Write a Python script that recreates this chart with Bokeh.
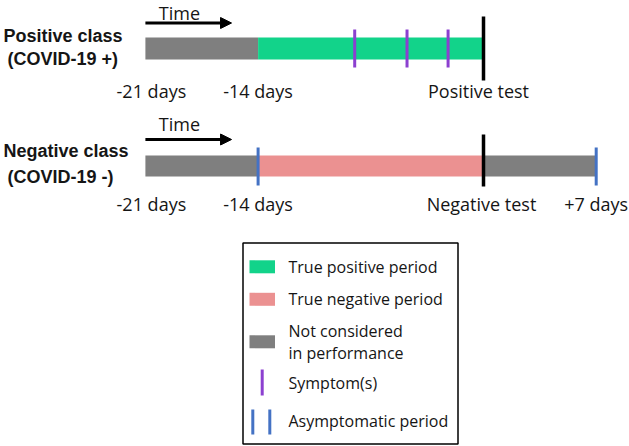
from bokeh.plotting import figure
from bokeh.models import Range1d, Arrow, NormalHead
from bokeh.core.properties import value
from bokeh.embed import file_html
from bokeh.resources import INLINE

GRAY = "#7f7f7f"
GREEN = "#12d38a"
PINK = "#eb9191"
PURPLE = "#8c40d0"
BLUE = "#4472c4"
TXT = "#151515"

# ---- data (days relative to the test) ----
pos_starts = [-21, -14]
pos_ends = [-14, 0]
pos_colors = [GRAY, GREEN]
neg_starts = [-21, -14, 0]
neg_ends = [-14, 0, 7]
neg_colors = [GRAY, PINK, GRAY]
symptom_days = [-8.0, -4.75, -2.2]
asym_days = [-14, 7]
test_day = 0
pos_tick_days = [-21, -14, 0]
pos_tick_labels = ["-21 days", "-14 days", "Positive test"]
neg_tick_days = [-21, -14, 0, 7]
neg_tick_labels = ["-21 days", "-14 days", "Negative test", "+7 days"]
time_arrow_days = [-21, -15.65]
row_titles = [["Positive class", "(COVID-19 +)"], ["Negative class", "(COVID-19 -)"]]
legend_labels = ["True positive period", "True negative period",
                 ["Not considered", "in performance"], "Symptom(s)", "Asymptomatic period"]
legend_colors = [GREEN, PINK, GRAY, PURPLE, BLUE]

F = value("Open Sans")
B = value("Arial, Liberation Sans, Arimo, sans-serif")

p = figure(width=629, height=446, x_range=Range1d(-30.0, 9.068), y_range=Range1d(446, 0),
           output_backend="svg", toolbar_location=None, min_border=0,
           x_axis_type=None, y_axis_type=None, margin=0)
p.grid.visible = False
p.outline_line_color = None
p.background_fill_color = "white"
p.border_fill_color = "white"
p.extra_x_ranges = {"px": Range1d(0, 629)}

rows = [
    dict(starts=pos_starts, ends=pos_ends, colors=pos_colors, bar_y=48, bar_h=22,
         time_y=12.5, arrow_y=22.5, title_y=(35, 58), test_y=(16, 80), label_y=90.5,
         ticks=pos_tick_days, labels=pos_tick_labels, offs=[6, 0, -5]),
    dict(starts=neg_starts, ends=neg_ends, colors=neg_colors, bar_y=165.5, bar_h=21,
         time_y=123.5, arrow_y=139, title_y=(150.5, 176), test_y=(134, 186), label_y=203,
         ticks=neg_tick_days, labels=neg_tick_labels, offs=[6, 0, -2, 0]),
]

for i, r in enumerate(rows):
    n = len(r["starts"])
    p.hbar(y=[r["bar_y"]] * n, left=r["starts"], right=r["ends"], height=r["bar_h"],
           fill_color=r["colors"], line_color=None)
    # time arrow
    p.add_layout(Arrow(end=NormalHead(size=11, fill_color="black", line_color="black", line_width=1),
                       x_start=time_arrow_days[0], y_start=r["arrow_y"],
                       x_end=time_arrow_days[1], y_end=r["arrow_y"],
                       line_width=3, line_color="black"))
    p.text(x=[time_arrow_days[0]], y=[r["time_y"]], text=["Time"], x_offset=34,
           text_font=F, text_font_size="18px", text_align="center", text_baseline="middle",
           text_color=TXT)
    # row title
    p.text(x=[3, 7], y=list(r["title_y"]), text=row_titles[i], x_range_name="px",
           text_font=B, text_font_size="18px", text_font_style="bold",
           text_align="left", text_baseline="middle", text_color=TXT)
    # test line
    p.segment(x0=[test_day], x1=[test_day], y0=[r["test_y"][0]], y1=[r["test_y"][1]],
              line_color="black", line_width=3.5)
    # tick labels
    p.text(x=r["ticks"], y=[r["label_y"]] * len(r["ticks"]), text=r["labels"],
           x_offset=r["offs"],
           text_font=F, text_font_size="18px", text_align="center", text_baseline="middle",
           text_color=TXT)

# symptoms
p.segment(x0=symptom_days, x1=symptom_days, y0=[29] * len(symptom_days), y1=[67] * len(symptom_days),
          line_color=PURPLE, line_width=3)
# asymptomatic period markers
p.segment(x0=asym_days, x1=asym_days, y0=[147] * len(asym_days), y1=[185] * len(asym_days),
          line_color=BLUE, line_width=3)

# ---- legend (pixel x-range) ----
p.quad(left=[242.5], right=[457.5], top=[242.5], bottom=[443.5], x_range_name="px",
       fill_color=None, line_color="black", line_width=1.5)
sw_y = [266.3, 298.8, 341.3]
p.quad(left=[249] * 3, right=[274.5] * 3, top=[y - 6.5 for y in sw_y], bottom=[y + 6.5 for y in sw_y],
       x_range_name="px", fill_color=legend_colors[:3], line_color=None)
p.segment(x0=[261.7], x1=[261.7], y0=[369], y1=[395], x_range_name="px",
          line_color=legend_colors[3], line_width=3)
p.segment(x0=[252.3, 269.3], x1=[252.3, 269.3], y0=[409, 409], y1=[434, 434], x_range_name="px",
          line_color=legend_colors[4], line_width=3)

leg_text = [legend_labels[0], legend_labels[1], legend_labels[2][0], legend_labels[2][1],
            legend_labels[3], legend_labels[4]]
leg_y = [266.5, 298.5, 330, 352, 382, 420]
p.text(x=[288] * len(leg_text), y=leg_y, text=leg_text, x_range_name="px",
       text_font=F, text_font_size="16px", text_align="left", text_baseline="middle",
       text_color=TXT)

open("out.html", "w").write(file_html(p, INLINE))
